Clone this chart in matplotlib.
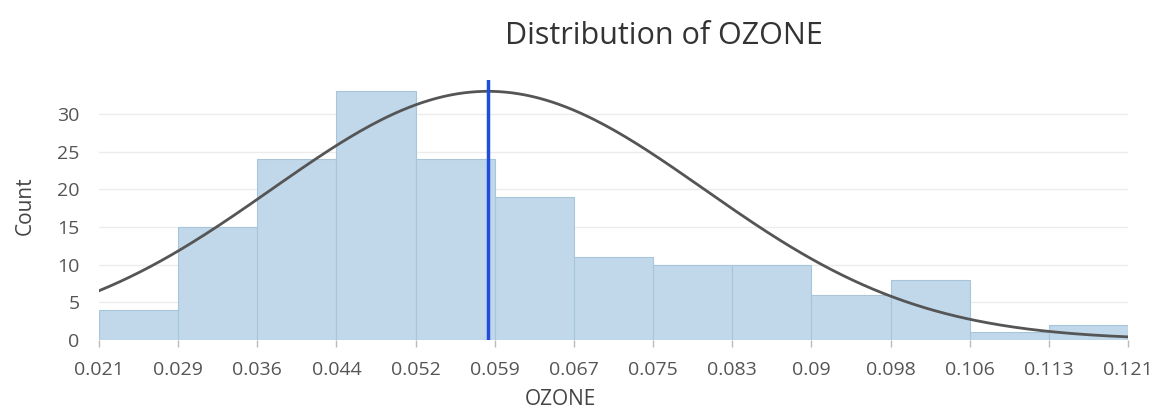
import numpy as np
import matplotlib
matplotlib.use("Agg")
import matplotlib.pyplot as plt

plt.rcParams['font.family'] = ['Open Sans', 'DejaVu Sans']

# --- data ---
x_min, x_max = 0.021, 0.121
counts = [4, 15, 24, 33, 24, 19, 11, 10, 10, 6, 8, 1, 2]
tick_labels = ["0.021", "0.029", "0.036", "0.044", "0.052", "0.059", "0.067",
               "0.075", "0.083", "0.09", "0.098", "0.106", "0.113", "0.121"]
mean_value = 0.0588
curve_sd = 0.021
curve_peak = 33.0
y_ticks = [0, 5, 10, 15, 20, 25, 30]

edges = np.linspace(x_min, x_max, len(counts) + 1)
widths = np.diff(edges)

fig = plt.figure(figsize=(11.56, 4.12), dpi=100)
ax = fig.add_axes([0.0856, 0.1748, 0.8902, 0.631])

ax.bar(edges[:-1], counts, width=widths, align='edge', color='#c0d8ea',
       edgecolor='#a9c5d9', linewidth=0.8, zorder=2)

# fitted normal curve
xs = np.linspace(x_min, x_max, 300)
ys = curve_peak * np.exp(-0.5 * ((xs - mean_value) / curve_sd) ** 2)
ax.plot(xs, ys, color='#555555', lw=2, zorder=3)

# mean line
ax.axvline(mean_value, color='#1f4fd8', lw=2.5, zorder=4)

ax.set_xlim(x_min, x_max)
ax.set_ylim(0, 34.5)
ax.set_xticks(edges)
ax.set_xticklabels(tick_labels)
ax.set_yticks(y_ticks)
ax.grid(axis='y', color='#ececec', lw=1, zorder=0)
ax.set_axisbelow(True)
for s in ax.spines.values():
    s.set_visible(False)
ax.tick_params(axis='x', colors='#bbbbbb', labelcolor='#555555', labelsize=14,
               length=5, width=1, pad=10)
ax.tick_params(axis='y', length=0, labelcolor='#555555', labelsize=14, pad=14)

fig.text(0.022, 0.5, "Count", rotation=90, ha='center', va='center',
         fontsize=15, color='#444444')
fig.text(0.485, 0.004, "OZONE", ha='center', va='bottom', fontsize=15, color='#444444')
fig.text(0.574, 0.912, "Distribution of OZONE", ha='center', va='center',
         fontsize=22, color='#333333')

fig.savefig("out.png", dpi=100, facecolor='white')
